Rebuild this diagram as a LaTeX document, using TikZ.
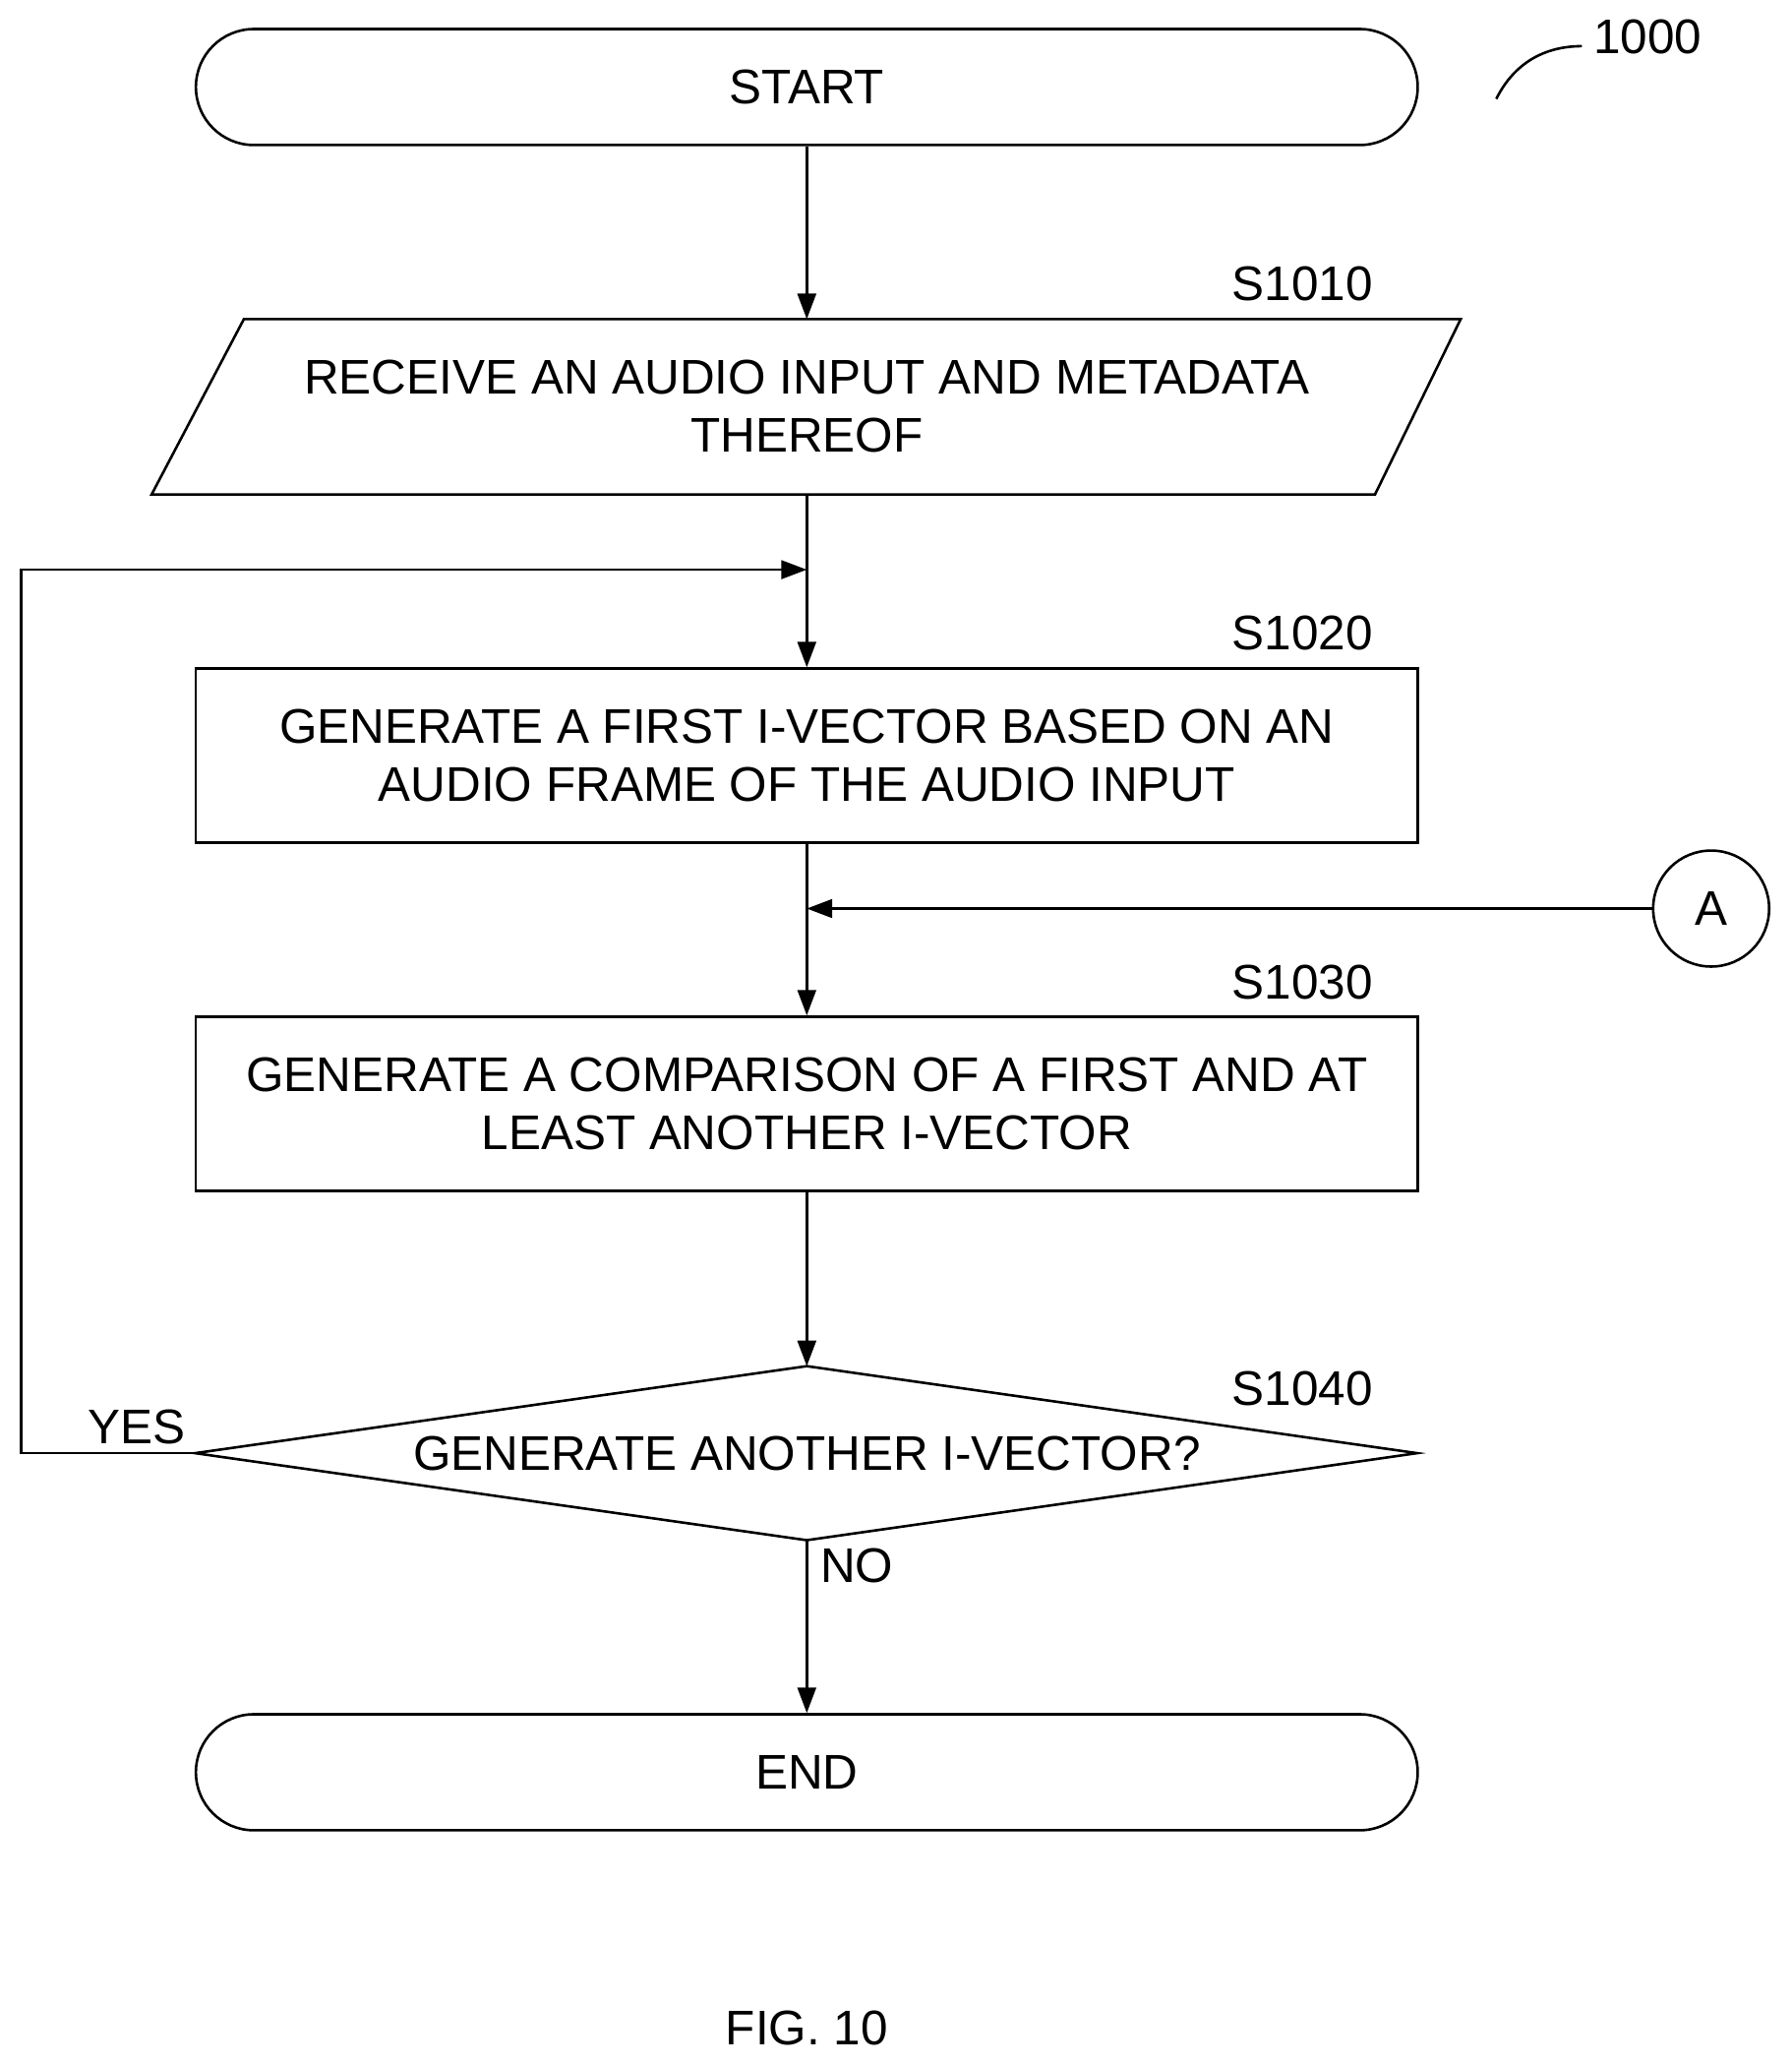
\documentclass[tikz,border=0pt]{standalone}
\usepackage{fontspec}
\setmainfont{Liberation Sans}
\usetikzlibrary{arrows.meta}
\begin{document}
\begin{tikzpicture}[x=0.02cm,y=-0.02cm,
  every node/.style={font=\fontsize{21}{25}\selectfont},
  ln/.style={line width=1.1pt},
  arr/.style={ln,-{Triangle[length=11pt,width=8pt]}},
  term/.style={draw,ln,rounded corners=0.88cm,minimum width=18.54cm,minimum height=1.76cm},
  box/.style={draw,ln,minimum width=18.54cm,minimum height=2.64cm,align=center},
  lbl/.style={}]
\useasboundingbox (0,0) rectangle (1359,1566);
\node[term] (start) at (612,66) {START};
\node[term] (end) at (612,1344) {END};
% parallelogram
\coordinate (p1) at (185,242); \coordinate (p2) at (1108,242);
\coordinate (p3) at (1043,375); \coordinate (p4) at (115,375);
\draw[ln] (p1)--(p2)--(p3)--(p4)--cycle;
\node[align=center] (s1010) at (612,308) {RECEIVE AN AUDIO INPUT AND METADATA\\THEREOF};
\coordinate (ptop) at (612,242); \coordinate (pbot) at (612,375);
\node[box] (s1020) at (612,573) {GENERATE A FIRST I-VECTOR BASED ON AN\\AUDIO FRAME OF THE AUDIO INPUT};
\node[box] (s1030) at (612,837) {GENERATE A COMPARISON OF A FIRST AND AT\\LEAST ANOTHER I-VECTOR};
\coordinate (dt) at (612,1036); \coordinate (dl) at (148,1102);
\coordinate (dr) at (1075,1102); \coordinate (db) at (612,1168);
\draw[ln] (dt)--(dr)--(db)--(dl)--cycle;
\node (s1040) at (612,1102) {GENERATE ANOTHER I-VECTOR?};
\node[draw,ln,circle,minimum size=1.76cm,inner sep=0] (A) at (1298,689) {A};
\node (l1) at (988,215) {S1010};
\node (l2) at (988,480) {S1020};
\node (l3) at (988,745) {S1030};
\node (l4) at (988,1053) {S1040};
\node (yes) at (104,1082) {YES};
\node (no) at (650,1187) {NO};
\node (fig) at (612,1538) {FIG. 10};
\node (num) at (1250,28) {1000};
\draw[ln] (1135,75) .. controls (1150,45) and (1175,35) .. (1200,35);
\coordinate (m1) at (612,432); \coordinate (m2) at (612,689);
\coordinate (c1) at (16,1102); \coordinate (c2) at (16,432);
\draw[arr] (start) -- (ptop);
\draw[arr] (pbot) -- (s1020);
\draw[arr] (dl) -- (c1) -- (c2) -- (m1);
\draw[arr] (s1020) -- (s1030);
\draw[arr] (A) -- (m2);
\draw[arr] (s1030) -- (dt);
\draw[arr] (db) -- (end);
\end{tikzpicture}
\end{document}
